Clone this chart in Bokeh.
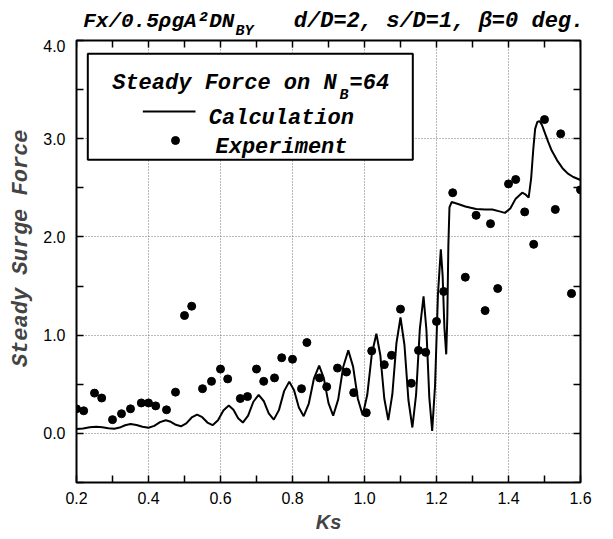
from bokeh.plotting import figure
from bokeh.layouts import column
from bokeh.models import (Label, FixedTicker, PrintfTickFormatter, LinearAxis, Range1d,
                          CustomJSTickFormatter)
from bokeh.embed import file_html
from bokeh.resources import INLINE

# ---- data ----
exp_ks = [0.20, 0.22, 0.25, 0.27, 0.30, 0.325, 0.35, 0.38, 0.40, 0.42, 0.45, 0.475,
          0.50, 0.52, 0.55, 0.575, 0.60, 0.62, 0.655, 0.675, 0.70, 0.72, 0.75, 0.77,
          0.80, 0.825, 0.84, 0.875, 0.895, 0.925, 0.95, 0.97, 1.005, 1.02, 1.055, 1.075,
          1.10, 1.13, 1.15, 1.17, 1.20, 1.22, 1.245, 1.28, 1.31, 1.335, 1.35, 1.37,
          1.40, 1.42, 1.445, 1.47, 1.50, 1.53, 1.545, 1.575, 1.60]
exp_force = [0.25, 0.23, 0.41, 0.36, 0.14, 0.20, 0.25, 0.31, 0.31, 0.28, 0.24, 0.42,
             1.20, 1.295, 0.455, 0.53, 0.655, 0.555, 0.355, 0.375, 0.655, 0.53, 0.565, 0.77,
             0.755, 0.455, 0.925, 0.565, 0.475, 0.665, 0.625, 0.415, 0.21, 0.84, 0.70, 0.795,
             1.265, 0.51, 0.845, 0.825, 1.14, 1.445, 2.45, 1.59, 2.22, 1.25, 2.135, 1.475,
             2.54, 2.585, 2.255, 1.925, 3.195, 2.28, 3.05, 1.425, 2.48]

calc_ks = [0.200, 0.2183, 0.2367, 0.255, 0.2717, 0.2883, 0.305, 0.320, 0.335, 0.350,
           0.3667, 0.3833, 0.400, 0.416, 0.432, 0.448, 0.462, 0.476, 0.490, 0.505,
           0.520, 0.535, 0.5493, 0.5637, 0.578, 0.593, 0.608, 0.623, 0.636, 0.649,
           0.662, 0.6767, 0.6913, 0.706, 0.720, 0.734, 0.748, 0.7623, 0.7767, 0.791,
           0.8043, 0.8177, 0.831, 0.8453, 0.8597, 0.874, 0.887, 0.900, 0.913, 0.927,
           0.941, 0.955, 0.9683, 0.9817, 0.995, 1.0077, 1.0203, 1.033, 1.044, 1.055,
           1.066, 1.0773, 1.0887, 1.100, 1.111, 1.122, 1.133, 1.1433, 1.1537, 1.164,
           1.172, 1.180, 1.188, 1.196, 1.204, 1.212, 1.217, 1.222, 1.227, 1.230,
           1.233, 1.236, 1.242, 1.26, 1.28, 1.31, 1.335, 1.355, 1.375, 1.39,
           1.405, 1.42, 1.438, 1.448, 1.456, 1.463, 1.469, 1.474, 1.480, 1.486,
           1.493, 1.50, 1.51, 1.52, 1.535, 1.55, 1.565, 1.58, 1.60]
calc_force = [0.045, 0.0508, 0.0623, 0.068, 0.0628, 0.0523, 0.047, 0.059, 0.083, 0.095,
              0.0858, 0.0673, 0.058, 0.0768, 0.1143, 0.133, 0.1178, 0.0873, 0.072, 0.102,
              0.162, 0.192, 0.1648, 0.1103, 0.083, 0.133, 0.233, 0.283, 0.2398, 0.1533,
              0.110, 0.1808, 0.3223, 0.393, 0.3298, 0.2033, 0.140, 0.2368, 0.4303, 0.527,
              0.439, 0.263, 0.175, 0.3038, 0.5613, 0.690, 0.5625, 0.3075, 0.180, 0.3463,
              0.6788, 0.845, 0.68, 0.35, 0.185, 0.3925, 0.8075, 1.015, 0.795, 0.355,
              0.135, 0.3963, 0.9188, 1.180, 0.90, 0.34, 0.060, 0.3938, 1.0613, 1.395,
              1.0525, 0.3675, 0.025, 0.4875, 1.4125, 1.875, 1.6075, 1.0725, 0.805, 1.179,
              1.926, 2.30, 2.355, 2.335, 2.31, 2.285, 2.28, 2.28, 2.26, 2.245,
              2.29, 2.39, 2.45, 2.43, 2.40, 2.60, 2.90, 3.10, 3.17, 3.18,
              3.14, 3.07, 2.97, 2.88, 2.78, 2.70, 2.645, 2.61, 2.58]

x_major = [0.2, 0.4, 0.6, 0.8, 1.0, 1.2, 1.4, 1.6]
x_minor = [0.3, 0.5, 0.7, 0.9, 1.1, 1.3, 1.5]
y_major = [0.0, 1.0, 2.0, 3.0, 4.0]
y_minor = [-0.5, 0.5, 1.5, 2.5, 3.5]

MONO = "Liberation Mono"
SANS = "Liberation Sans"
NB = "\u00a0"

xr = Range1d(0.2, 1.6)

# ---- title strip (shares the Ks axis horizontally, pixels vertically) ----
tfig = figure(width=613, height=39, output_backend="svg", toolbar_location=None,
              x_range=xr, y_range=Range1d(0, 39),
              x_axis_type=None, y_axis_type=None, title=None,
              min_border_left=76, min_border_right=33, min_border_top=0, min_border_bottom=0,
              min_border=0)
tfig.outline_line_color = None
tfig.grid.visible = False
tfig.background_fill_color = "white"
tfig.border_fill_color = "white"

def tlab(fig, x, y, text, size="21px", font=MONO):
    fig.add_layout(Label(x=x, y=y, text=text, text_font=font, text_font_style="bold italic",
                         text_font_size=size, text_color="black", text_baseline="alphabetic",
                         text_align="left"))

tlab(tfig, 0.2186, 18.3, "Fx/0.5ρgA²DN")
tlab(tfig, 0.6417, 8.0, "BY", size="15px")
tlab(tfig, 0.8036, 18.3, "d/D=2, s/D=1, β=0 deg.", size="22px")

# ---- main plot ----
p = figure(width=613, height=500, output_backend="svg", toolbar_location=None, title=None,
           x_range=xr, y_range=Range1d(-0.5, 4.0),
           min_border_left=76, min_border_right=33, min_border_top=1, min_border_bottom=57)
p.background_fill_color = "white"
p.border_fill_color = "white"
p.outline_line_color = "black"
p.outline_line_width = 2

xt = FixedTicker(ticks=x_major, minor_ticks=x_minor)
yt = FixedTicker(ticks=y_major, minor_ticks=y_minor)
p.xaxis.ticker = xt
p.yaxis.ticker = yt
p.xgrid.ticker = xt
p.ygrid.ticker = yt
for g in (p.xgrid, p.ygrid):
    g.grid_line_color = "#777777"
    g.grid_line_dash = "1 2"
    g.grid_line_width = 1

def style_axis(ax, labels=True):
    ax.axis_line_color = None
    ax.major_tick_in = 7
    ax.major_tick_out = 0
    ax.minor_tick_in = 7
    ax.minor_tick_out = 0
    ax.major_tick_line_color = "black"
    ax.minor_tick_line_color = "black"
    ax.major_tick_line_width = 1.5
    ax.minor_tick_line_width = 1.5
    ax.major_label_text_font = SANS
    ax.major_label_text_font_size = "16px"
    ax.major_label_text_color = "black"
    if labels:
        ax.formatter = PrintfTickFormatter(format="%.1f")
    else:
        ax.formatter = CustomJSTickFormatter(code="return ''")
        ax.major_label_standoff = 0

style_axis(p.xaxis[0])
style_axis(p.yaxis[0])
p.xaxis.major_label_standoff = 9
p.yaxis.major_label_standoff = 11
p.xaxis.axis_label = "Ks"
p.xaxis.axis_label_text_font = SANS
p.xaxis.axis_label_text_font_style = "bold italic"
p.xaxis.axis_label_text_font_size = "20px"
p.xaxis.axis_label_standoff = 4
p.yaxis.axis_label = NB + NB + "Steady Surge Force"
p.yaxis.axis_label_text_font = MONO
p.yaxis.axis_label_text_font_style = "bold italic"
p.yaxis.axis_label_text_font_size = "22px"
p.yaxis.axis_label_standoff = 6

top_ax = LinearAxis(ticker=xt, fixed_location=4.0)
style_axis(top_ax, labels=False)
right_ax = LinearAxis(ticker=yt, fixed_location=1.6)
style_axis(right_ax, labels=False)
p.add_layout(top_ax, "above")
p.add_layout(right_ax, "right")

# data
p.line(calc_ks, calc_force, line_color="black", line_width=2)
p.scatter(exp_ks, exp_force, size=8, marker="circle", fill_color="black", line_color="black")

# legend box (drawn by hand to allow the subscript)
p.quad(left=[0.2314], right=[1.1342], top=[3.8646], bottom=[2.7853],
       fill_color="white", line_color="black", line_width=2)
p.line([0.3842, 0.5306], [3.2771, 3.2771], line_color="black", line_width=2)
p.scatter([0.475], [2.9819], size=8, marker="circle", fill_color="black", line_color="black")

tlab(p, 0.2992, 3.559, "Steady Force on N", size="22px")
tlab(p, 0.9306, 3.440, "B", size="15px")
tlab(p, 0.9583, 3.559, "=64", size="22px")
tlab(p, 0.5675, 3.2028, "Calculation", size="22px")
tlab(p, 0.5861, 2.9137, "Experiment", size="22px")

layout = column(tfig, p, spacing=0)
open("out.html", "w").write(file_html(layout, INLINE))
